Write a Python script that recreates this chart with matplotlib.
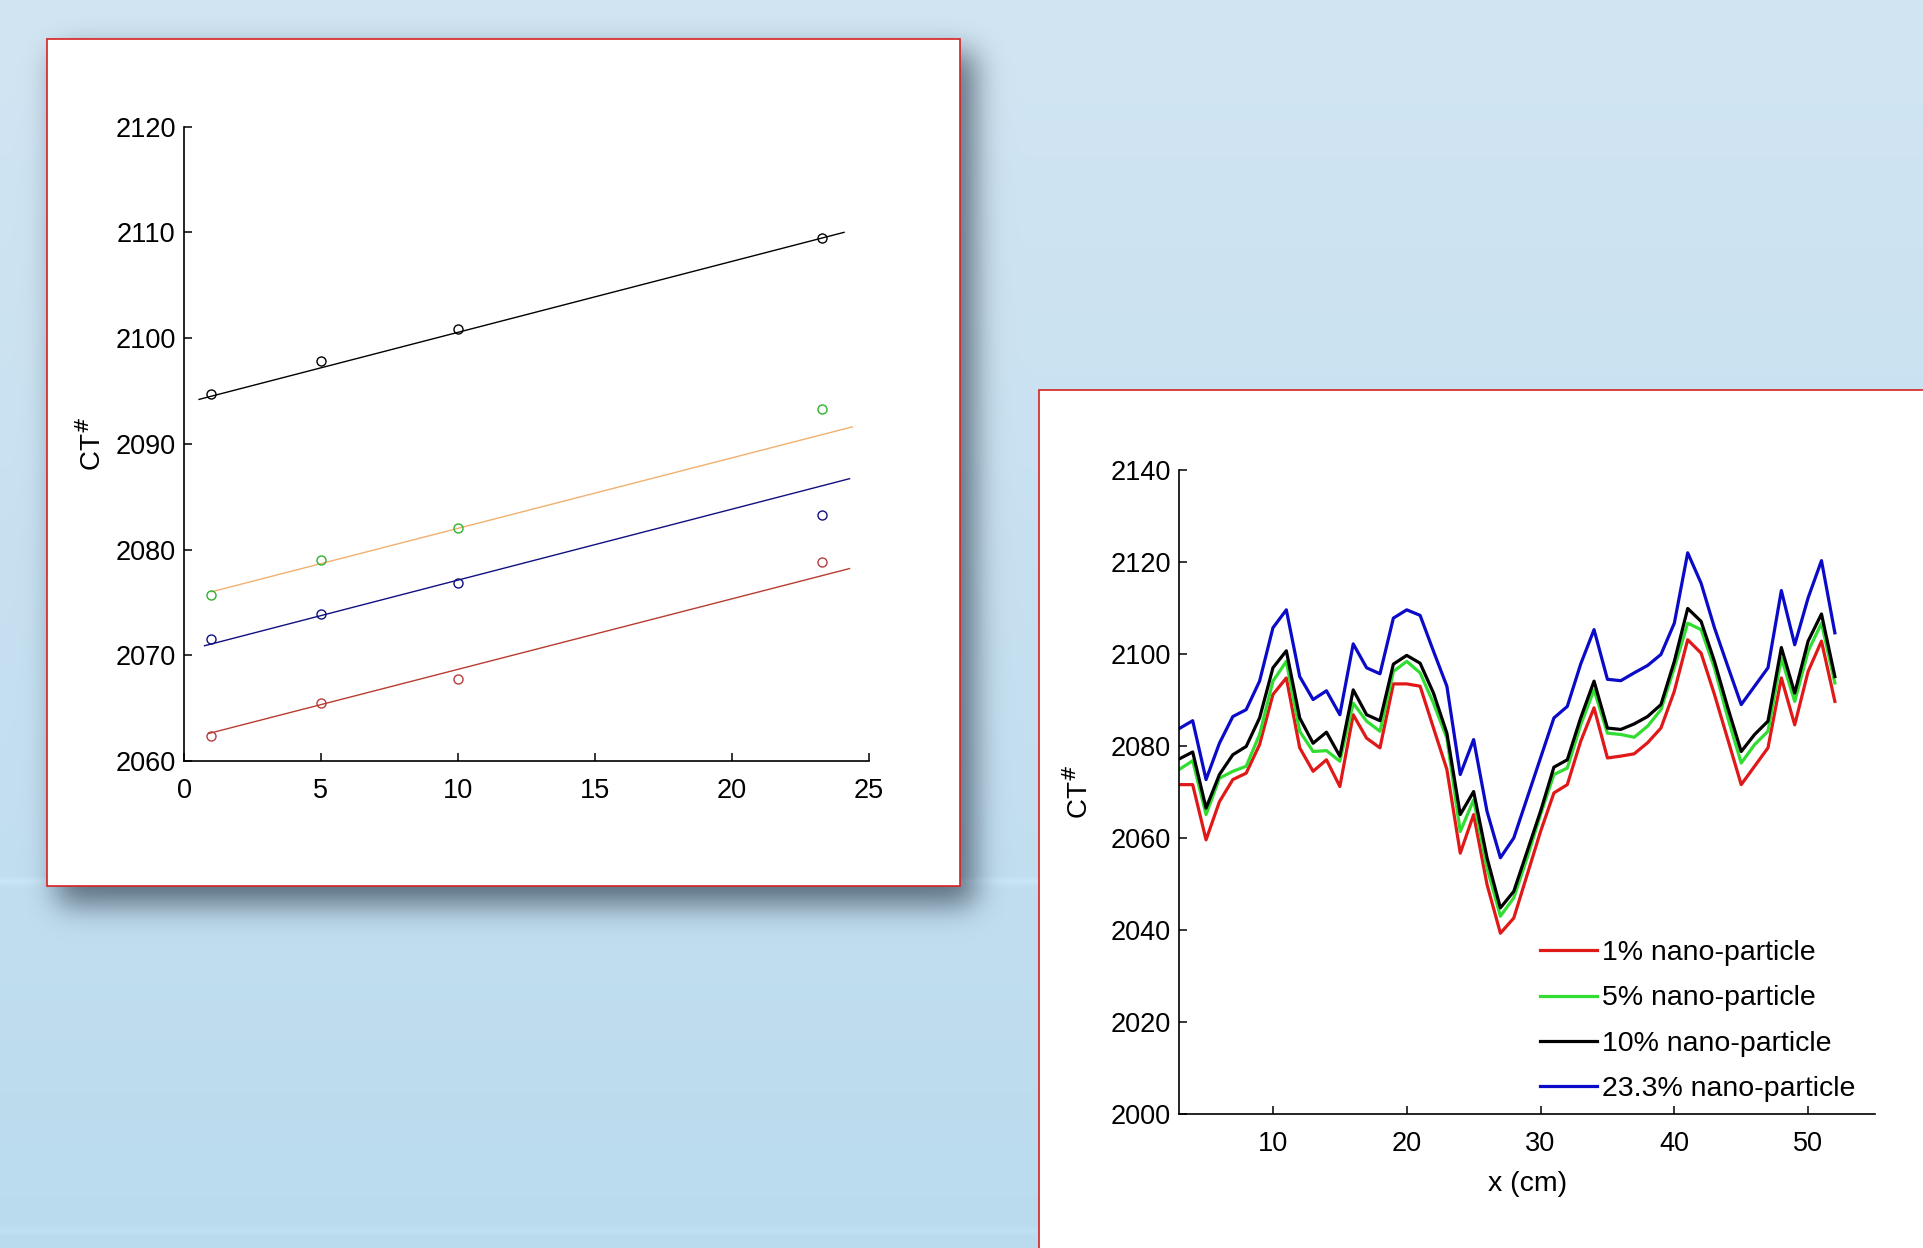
import math
import numpy as np
import matplotlib
matplotlib.use('Agg')
import matplotlib.pyplot as plt
from matplotlib.patches import Rectangle

plt.rcParams['font.family'] = ['Liberation Sans', 'DejaVu Sans']

# ---- left panel: CT number vs concentration, with fitted lines ----
conc = [1, 5, 10, 23.3]
ct_black = [2094.7, 2097.8, 2100.9, 2109.5]
ct_green = [2075.7, 2079.0, 2082.0, 2093.3]
ct_blue = [2071.5, 2073.9, 2076.8, 2083.3]
ct_red = [2062.4, 2065.5, 2067.8, 2078.8]

fit_black_x = [0.55, 24.1]
fit_black_y = [2094.2, 2110.0]
fit_orange_x = [1.0, 24.4]
fit_orange_y = [2076.0, 2091.6]
fit_blue_x = [0.75, 24.3]
fit_blue_y = [2070.9, 2086.7]
fit_red_x = [0.9, 24.3]
fit_red_y = [2062.6, 2078.2]

# ---- right panel: CT profile along x ----
x_cm = list(range(3, 53))
ct_1 = [2071.6, 2071.6, 2059.6, 2067.9, 2072.7, 2074.1, 2080.3, 2091.2, 2094.8, 2079.6,
        2074.5, 2077.0, 2071.2, 2086.8, 2081.7, 2079.6, 2093.5, 2093.5, 2093.0, 2083.9,
        2074.9, 2056.7, 2065.1, 2049.9, 2039.3, 2042.6, 2052.0, 2061.4, 2069.8, 2071.6,
        2081.0, 2088.3, 2077.4, 2077.8, 2078.3, 2080.7, 2083.9, 2091.9, 2103.1, 2100.2,
        2091.2, 2081.4, 2071.6, 2075.6, 2079.6, 2094.8, 2084.6, 2096.2, 2102.8, 2089.7]
ct_5 = [2074.9, 2076.8, 2065.1, 2073.0, 2074.5, 2075.6, 2082.5, 2094.1, 2098.4, 2083.2,
        2078.8, 2079.0, 2076.7, 2089.3, 2085.4, 2083.2, 2096.2, 2098.4, 2095.9, 2089.3,
        2081.7, 2061.4, 2068.3, 2053.5, 2043.0, 2047.0, 2055.7, 2065.1, 2073.8, 2075.2,
        2084.6, 2092.2, 2082.8, 2082.5, 2081.9, 2084.3, 2087.9, 2097.0, 2106.7, 2105.3,
        2097.0, 2086.1, 2076.3, 2080.3, 2083.2, 2099.1, 2089.7, 2100.6, 2106.7, 2093.7]
ct_10 = [2077.2, 2078.7, 2066.5, 2073.8, 2078.1, 2079.9, 2086.1, 2097.0, 2100.7, 2086.1,
         2080.6, 2083.0, 2077.8, 2092.2, 2086.8, 2085.5, 2097.8, 2099.7, 2098.0, 2091.5,
         2082.8, 2065.1, 2070.1, 2055.7, 2044.8, 2048.4, 2057.1, 2065.8, 2075.4, 2077.0,
         2086.1, 2094.1, 2083.9, 2083.6, 2084.8, 2086.4, 2089.0, 2098.4, 2109.9, 2107.1,
         2098.4, 2088.3, 2078.8, 2082.5, 2085.4, 2101.4, 2091.5, 2102.8, 2108.7, 2095.1]
ct_23 = [2083.8, 2085.5, 2072.7, 2080.6, 2086.4, 2087.9, 2094.1, 2105.7, 2109.6, 2095.1,
         2090.1, 2092.0, 2086.8, 2102.2, 2097.0, 2095.7, 2107.8, 2109.6, 2108.4, 2100.6,
         2093.0, 2073.8, 2081.4, 2065.8, 2055.7, 2060.0, 2068.7, 2077.4, 2086.1, 2088.6,
         2097.8, 2105.3, 2094.5, 2094.2, 2095.9, 2097.5, 2099.9, 2106.7, 2122.0, 2115.4,
         2105.7, 2097.3, 2089.0, 2093.0, 2097.0, 2113.8, 2102.0, 2112.2, 2120.3, 2104.6]
legend_labels = ['1% nano-particle', '5% nano-particle', '10% nano-particle', '23.3% nano-particle']

W, H = 1924, 1248
fig = plt.figure(figsize=(W / 100, H / 100), dpi=100)

# background: light blue gradient with a soft shadow behind the left panel
yy = np.linspace(0, 1, H)[:, None]
top = np.array([210, 229, 243]) / 255
bot = np.array([186, 219, 238]) / 255
bg = top[None, None, :] * (1 - yy[..., None]) + bot[None, None, :] * yy[..., None]
bg = np.repeat(bg, W, axis=1)
bands = np.exp(-((np.arange(H) - 881) / 4.0) ** 2) * 0.03 + np.exp(-((np.arange(H) - 1230) / 4.0) ** 2) * 0.02
bg = np.clip(bg + bands[:, None, None], 0, 1)

erf = np.vectorize(math.erf)
s = 15 * math.sqrt(2)
px = np.arange(W)
py = np.arange(H)
fx = 0.5 * (erf((px - 57) / s) - erf((px - 974) / s))
fy = 0.5 * (erf((py - 52) / s) - erf((py - 904) / s))
shadow = 0.64 * fy[:, None] * fx[None, :]
dark = np.array([30, 45, 60]) / 255
bg = bg * (1 - shadow[..., None]) + dark[None, None, :] * shadow[..., None]

ax_bg = fig.add_axes([0, 0, 1, 1], zorder=-5)
ax_bg.imshow(bg, aspect='auto', extent=[0, 1, 0, 1], interpolation='bilinear')
ax_bg.set_axis_off()

# white panels with red border
red_edge = '#d82020'
fig.add_artist(Rectangle((47 / W, 1 - 886 / H), 913 / W, 847 / H, transform=fig.transFigure,
                         facecolor='white', edgecolor=red_edge, linewidth=1.2, zorder=-1))
fig.add_artist(Rectangle((1039 / W, -0.02), 1.0, 1 - 390 / H + 0.02, transform=fig.transFigure,
                         facecolor='white', edgecolor=red_edge, linewidth=1.2, zorder=-1))

fs = 19.5

def style_axes(ax):
    ax.set_facecolor('none')
    ax.spines['top'].set_visible(False)
    ax.spines['right'].set_visible(False)
    for sp in ('left', 'bottom'):
        ax.spines[sp].set_linewidth(1.2)
    ax.tick_params(direction='in', length=6, width=1.1, labelsize=fs)
    ax.tick_params(axis='x', pad=12)
    ax.tick_params(axis='y', pad=6)

# ---- left chart ----
ax1 = fig.add_axes([184 / W, 1 - 761 / H, 684.7 / W, 634.4 / H], zorder=1)
style_axes(ax1)
ax1.plot(fit_black_x, fit_black_y, color='black', lw=1.0)
ax1.plot(fit_orange_x, fit_orange_y, color='#f0b070', lw=1.0)
ax1.plot(fit_blue_x, fit_blue_y, color='#101080', lw=1.0)
ax1.plot(fit_red_x, fit_red_y, color='#b83c30', lw=1.0)
ms = 6.5
ax1.plot(conc, ct_black, 'o', mfc='none', mec='black', ms=ms, mew=1.0)
ax1.plot(conc, ct_green, 'o', mfc='none', mec='#30b030', ms=ms, mew=1.0)
ax1.plot(conc, ct_blue, 'o', mfc='none', mec='#101080', ms=ms, mew=1.0)
ax1.plot(conc, ct_red, 'o', mfc='none', mec='#b83c3c', ms=ms, mew=1.0)
ax1.set_xlim(0, 25)
ax1.set_ylim(2060, 2120)
ax1.set_xticks([0, 5, 10, 15, 20, 25])
ax1.set_yticks([2060, 2070, 2080, 2090, 2100, 2110, 2120])
ax1.set_ylabel('CT$^{\\#}$', fontsize=20, labelpad=6)

# ---- right chart ----
ax2 = fig.add_axes([1179.3 / W, 1 - 1114 / H, 695.7 / W, 644 / H], zorder=1)
style_axes(ax2)
lw = 2.3
ax2.plot(x_cm, ct_1, color='#e01818', lw=lw, label=legend_labels[0])
ax2.plot(x_cm, ct_5, color='#30dd30', lw=lw, label=legend_labels[1])
ax2.plot(x_cm, ct_10, color='black', lw=lw, label=legend_labels[2])
ax2.plot(x_cm, ct_23, color='#0a0ac8', lw=lw, label=legend_labels[3])
ax2.set_xlim(3, 55)
ax2.set_ylim(2000, 2140)
ax2.set_xticks([10, 20, 30, 40, 50])
ax2.set_yticks(range(2000, 2141, 20))
ax2.set_ylabel('CT$^{\\#}$', fontsize=20, labelpad=12)
ax2.set_xlabel('x (cm)', fontsize=20.5, labelpad=10)
ax2.legend(loc='upper left', bbox_to_anchor=(0.518, 0.27), frameon=False, fontsize=20.5,
           handlelength=2.0, handletextpad=0.2, labelspacing=0.68, borderaxespad=0, borderpad=0)

fig.savefig('out.png', dpi=100)
